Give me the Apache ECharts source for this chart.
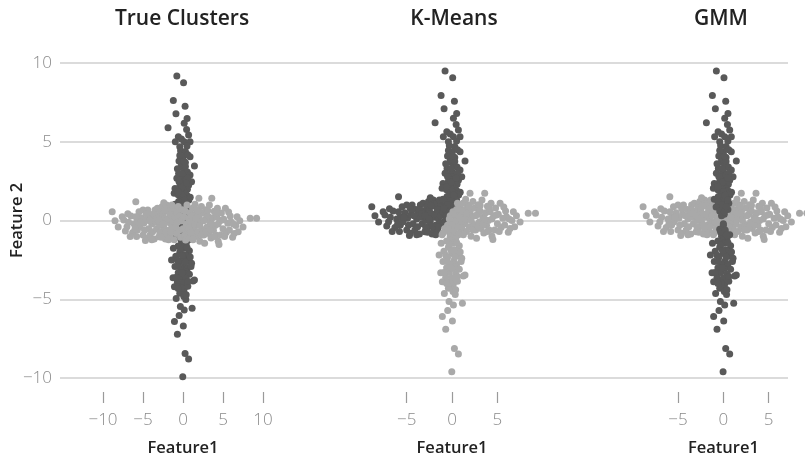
<!DOCTYPE html>
<html>
<head>
<meta charset="utf-8">
<script src="https://cdn.jsdelivr.net/npm/echarts@6/dist/echarts.min.js"></script>
<style>
html,body{margin:0;padding:0;background:#fff;}
#chart{width:805px;height:459px;}
</style>
</head>
<body>
<div id="chart"></div>
<script>
// ---- data (Feature1, Feature 2) ----
// horizontal cluster, left arm
const aLeft = [[-8.85,0.88],[-8.5,0.3],[-8.1,-0.1],[-7.6,0.56],[-7.4,0.35],[-7.2,-0.35],[-7.0,-0.08],[-6.8,0.2],[-6.5,0.6],[-6.3,-0.45],
[-6.1,0.1],[-5.9,1.51],[-5.8,-0.7],[-5.7,0.24],[-5.7,-0.29],[-5.5,0.88],[-5.4,-0.08],[-5.2,0.5],[-5.0,0.98],[-5.0,-0.6],
[-4.9,0.15],[-4.7,-0.95],[-4.6,-0.81],[-4.5,0.4],[-4.4,0.98],[-4.3,-0.2],[-4.1,-0.6],[-4.0,0.7],[-3.9,0.1],[-3.8,-0.4],
[-3.7,0.45],[-3.6,-0.85],[-3.5,0.98],[-3.4,0.2],[-3.3,-0.2],[-3.2,1.09],[-3.1,0.6],[-3.0,-0.71],[-2.9,0.0],[-2.8,0.88],
[-2.7,0.35],[-2.6,1.2],[-2.6,-0.4],[-2.5,0.7],[-2.4,-0.1],[-2.3,0.45],[-2.2,-0.85],[-2.06,1.3],[-2.06,-0.71],[-2.0,0.2],
[-1.9,0.9],[-1.8,-0.3],[-1.7,1.09],[-1.7,0.5],[-1.6,-0.6],[-1.5,0.1],[-1.4,0.75],[-1.3,-0.2],[-1.2,1.0],[-1.2,0.35],
[-6.9,0.75],[-6.0,-0.2],[-5.3,0.2],[-4.8,-0.3],[-4.2,0.3],[-3.9,-0.9],[-3.6,0.7],[-3.3,0.45],[-3.0,0.3],[-2.9,-0.45],
[-2.7,-0.75],[-2.5,0.1],[-2.3,0.95],[-2.1,-0.4],[-1.9,0.4],[-1.8,-0.9],[-1.6,0.7],[-1.5,-0.4],[-1.4,1.3],[-1.3,0.3],
[-6.6,-0.7],[-5.9,0.55],[-4.6,0.75],[-2.4,1.45]];
// horizontal cluster, centre
const aMid = [[-1.1,-0.9],[-1.0,0.55],[-0.9,-0.1],[-0.8,0.85],[-0.8,-0.5],[-0.7,0.2],[-0.6,1.2],[-0.5,-0.3],[-0.4,0.6],[-0.3,-0.75],
[-0.2,0.3],[-0.1,1.0],[0.0,-0.2],[0.1,0.55],[0.2,-0.6],[0.3,0.9],[0.33,-0.92],[0.4,0.1],[0.5,1.3],[0.6,-0.35]];
const aMidKMeans = "01110110100100010010";
const aMidGMM    = "00010010111111111010";
// horizontal cluster, right arm
const aRight = [[0.7,0.45],[0.8,-0.8],[0.9,0.8],[1.0,0.0],[1.1,-0.5],[1.2,1.1],[1.3,0.3],[1.4,-0.2],[1.5,0.7],[1.6,-0.7],
[1.7,1.0],[1.8,0.1],[1.9,-0.4],[1.98,1.73],[2.0,0.55],[2.1,-1.0],[2.2,0.25],[2.3,1.2],[2.4,-0.25],[2.5,0.8],
[2.6,-0.6],[2.7,-1.13],[2.8,0.4],[2.9,1.0],[3.0,-0.1],[3.1,0.6],[3.2,-0.5],[3.3,1.3],[3.4,0.2],[3.5,-0.8],
[3.6,1.73],[3.7,0.5],[3.8,-0.3],[3.9,0.9],[4.0,0.0],[4.1,-0.6],[4.2,0.55],[4.3,1.1],[4.4,-1.0],[4.5,-1.2],
[4.6,0.3],[4.7,-0.6],[4.8,0.8],[5.0,-0.2],[5.1,0.4],[5.3,1.09],[5.4,-0.45],[5.6,0.15],[5.8,-0.29],[5.9,0.6],
[6.0,0.24],[6.2,-0.75],[6.4,-0.5],[6.6,0.0],[6.76,0.56],[7.1,0.3],[7.5,-0.1],[8.4,0.46],[9.2,0.46],
[0.75,-0.2],[0.9,0.25],[1.1,0.6],[1.25,-0.9],[1.45,0.1],[1.6,0.45],[1.9,0.9],[2.1,0.0],[2.3,-0.6],[2.6,0.3],
[2.9,-0.4],[3.1,0.95],[3.4,-0.25],[3.6,0.1],[3.9,-0.7],[4.1,0.8],[4.4,0.1],[4.9,0.35],[5.2,-0.7],[5.7,0.85],
[6.3,0.1],[6.9,-0.4],[1.5,1.35],[0.95,-0.45]];
// vertical cluster, upper arm
const bTop = [[-0.77,9.49],[0.07,9.07],[-1.21,7.93],[0.26,7.57],[-0.88,7.1],[0.51,6.8],[0.15,6.49],[-1.87,6.21],[0.45,6.1],[0.7,5.75],
[-0.58,5.64],[-0.2,5.5],[-0.96,5.32],[0.15,5.32],[0.88,5.32],[-0.4,5.0],[0.5,5.05],[-0.3,4.75],[0.3,4.7],[0.0,4.35],
[0.88,4.37],[-0.5,4.1],[0.3,4.0],[-0.2,3.9],[1.43,3.78],[-0.2,3.7],[0.2,3.5],[0.55,3.4],[-0.55,3.3],[0.88,3.2],
[0.0,3.1],[-0.77,3.0],[0.4,2.95],[-0.35,2.9],[0.15,2.8],[1.07,2.78],[-0.3,2.65],[-0.4,2.5],[0.7,2.55],[0.25,2.45],
[-1.0,2.35],[0.55,2.3],[0.0,2.2],[-1.1,2.05],[0.35,2.0],[-0.6,1.95],[-0.15,1.95],[0.5,1.9],[0.0,1.84],[0.9,1.8],
[0.73,1.62],[-0.3,1.6],[-0.55,1.52],[0.3,1.4],[-1.0,1.35],[-0.1,1.25],
[-0.5,2.8],[0.6,3.0],[-0.1,3.3],[0.3,3.75],[-0.7,3.6],[0.1,4.1],[-0.1,2.45],[0.45,2.7],[-0.6,2.15],[0.2,1.6],
[-0.4,4.45],[0.6,4.5]];
// vertical cluster, centre
const bMid = [[0.6,1.1],[-0.5,1.0],[0.2,0.9],[-0.9,0.75],[0.5,0.7],[-0.2,0.6],[0.1,0.4],[-0.6,0.3],[0.8,0.2],[-0.3,0.1],
[0.3,-0.05],[-0.8,-0.15],[0.0,-0.3],[0.6,-0.4],[-0.4,-0.55],[0.2,-0.7],[-1.0,-0.8]];
const bMidKMeans = "01110101000100000";
const bMidGMM    = "11101110000010110";
// vertical cluster, lower arm
const bBottom = [[0.7,-0.9],[-0.2,-1.0],[0.4,-1.15],[-0.1,-1.25],[-0.6,-1.3],[-1.2,-1.45],[0.1,-1.45],[0.8,-1.6],[-0.4,-1.7],[0.3,-1.85],
[0.5,-1.95],[-0.9,-1.95],[-1.43,-2.19],[0.0,-2.1],[-0.7,-2.2],[0.6,-2.25],[-0.5,-2.35],[1.07,-2.4],[0.2,-2.55],[-1.0,-2.6],
[-0.2,-2.75],[0.5,-2.8],[1.0,-2.6],[0.3,-2.95],[-0.6,-3.0],[0.1,-3.05],[0.8,-3.1],[-1.25,-3.31],[-0.3,-3.3],[0.4,-3.4],
[1.25,-3.52],[1.43,-3.46],[-0.7,-3.6],[0.0,-3.65],[-1.07,-3.89],[-0.5,-3.9],[0.15,-4.0],[0.6,-3.85],[0.1,-4.2],[-0.4,-4.3],
[0.1,-4.5],[-0.85,-4.63],[0.35,-4.7],[-0.33,-5.15],[0.15,-5.37],[1.14,-5.26],[-0.48,-5.72],[0.04,-6.38],[-1.07,-6.1],[-0.7,-6.91],
[0.26,-8.12],[0.7,-8.48],[-0.03,-9.6],
[-0.3,-1.55],[0.5,-1.4],[-0.6,-2.6],[0.3,-2.3],[-0.1,-3.0],[0.6,-3.55],[-0.2,-3.95],[0.4,-4.4],[-0.6,-4.0],[-0.1,-1.9],
[0.9,-2.0],[-0.9,-3.3]];

const panelTitles = ["True Clusters", "K-Means", "GMM"];
const yTicks = [-10, -5, 0, 5, 10];
const xTicksPanel1 = [-10, -5, 0, 5, 10];
const xTicksPanel23 = [-5, 0, 5];

// ---- build ----
const DARK = '#595959', LIGHT = '#a9a9a9';
const pick = (arr, labels, want) => arr.filter((_, i) => labels[i] === want);
const minus = v => String(v).replace('-', '\u2212');

const trueDark = [...bTop, ...bMid, ...bBottom];
const trueLight = [...aLeft, ...aMid, ...aRight];
const kmDark = [...aLeft, ...pick(aMid, aMidKMeans, '1'), ...bTop, ...pick(bMid, bMidKMeans, '1')];
const kmLight = [...aRight, ...pick(aMid, aMidKMeans, '0'), ...pick(bMid, bMidKMeans, '0'), ...bBottom];
const gmDark = [...bTop, ...bBottom, ...pick(bMid, bMidGMM, '1'), ...pick(aMid, aMidGMM, '1')];
const gmLight = [...aLeft, ...aRight, ...pick(aMid, aMidGMM, '0'), ...pick(bMid, bMidGMM, '0')];

const LABEL_FONT = {color:'#8a8a8a', fontSize:17, fontFamily:'"Open Sans", sans-serif', fontWeight:300};
const NAME_FONT = {color:'#222', fontSize:16.5, fontWeight:600, fontFamily:'"Open Sans", sans-serif'};

function panelX(idx, min, max, offset) {
  return {
    gridIndex: idx, type:'value', min:min, max:max, interval:5,
    position:'bottom', offset: offset,
    name:'Feature1', nameLocation:'middle', nameGap:48, nameTextStyle: NAME_FONT,
    axisLine:{show:true, onZero:false, lineStyle:{color:'#ffffff', width:1, opacity:0}},
    axisTick:{show:true, inside:false, length:11, lineStyle:{color:'#9a9a9a', width:1.2, opacity:1}},
    axisLabel:Object.assign({margin:20, showMinLabel:true, showMaxLabel:true, formatter:minus}, LABEL_FONT),
    splitLine:{show:false}
  };
}
function hiddenY(idx) {
  return {gridIndex:idx, type:'value', min:-10, max:10, interval:5, show:false, splitLine:{show:false}};
}
function sc(xi, data, color, z) {
  return {type:'scatter', xAxisIndex:xi, yAxisIndex:xi, data:data, symbolSize:7,
    itemStyle:{color:color, opacity:1}, clip:false, z:z, silent:true};
}

const chart = echarts.init(document.getElementById('chart'), null, {renderer:'canvas'});
chart.setOption({
  animation:false,
  backgroundColor:'#fff',
  title: [
    {text:panelTitles[0], left:177, top:4, textAlign:'center'},
    {text:panelTitles[1], left:449, top:4, textAlign:'center'},
    {text:panelTitles[2], left:716, top:4, textAlign:'center'}
  ].map(t => Object.assign(t, {textStyle:{fontSize:21, fontWeight:600, color:'#222', fontFamily:'"Open Sans", sans-serif'}})),
  grid: [
    {left:60, right:17, top:63, height:315, outerBoundsMode:'none', containLabel:false},
    {left:103, width:160, top:68, height:315, outerBoundsMode:'none', containLabel:false},
    {left:406.7, width:90.7, top:63, height:315, outerBoundsMode:'none', containLabel:false},
    {left:678, width:90.7, top:63, height:315, outerBoundsMode:'none', containLabel:false}
  ],
  xAxis: [
    {gridIndex:0, type:'value', show:false, min:0, max:1},
    panelX(1, xTicksPanel1[0], xTicksPanel1[xTicksPanel1.length-1], 9),
    panelX(2, xTicksPanel23[0], xTicksPanel23[xTicksPanel23.length-1], 14),
    panelX(3, xTicksPanel23[0], xTicksPanel23[xTicksPanel23.length-1], 14)
  ],
  yAxis: [
    {gridIndex:0, type:'value', min:yTicks[0], max:yTicks[yTicks.length-1], interval:5,
     name:'Feature 2', nameLocation:'middle', nameGap:34, nameMoveOverlap:false, nameRotate:90, nameTextStyle:NAME_FONT,
     axisLine:{show:false}, axisTick:{show:false},
     axisLabel:Object.assign({margin:8, formatter:minus}, LABEL_FONT),
     splitLine:{show:true, lineStyle:{color:'#cfcfcf', width:1.5}}},
    hiddenY(1), hiddenY(2), hiddenY(3)
  ],
  series: [
    sc(1, trueDark, DARK, 2), sc(1, trueLight, LIGHT, 3),
    sc(2, kmDark, DARK, 2), sc(2, kmLight, LIGHT, 3),
    sc(3, gmLight, LIGHT, 2), sc(3, gmDark, DARK, 3)
  ]
});
</script>
</body>
</html>
